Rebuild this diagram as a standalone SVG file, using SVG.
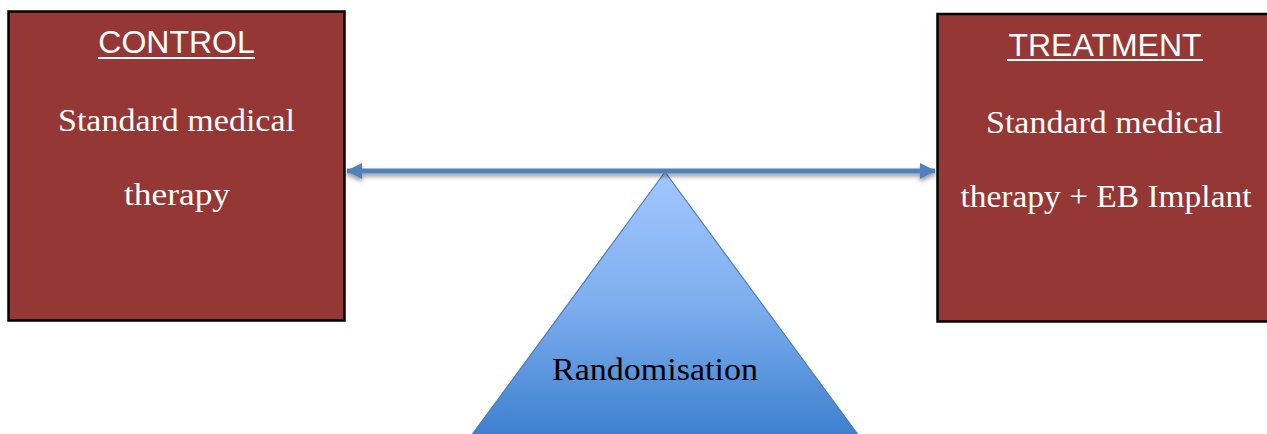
<svg xmlns="http://www.w3.org/2000/svg" width="1267" height="434" viewBox="0 0 1267 434">
  <defs>
    <linearGradient id="triFill" x1="0" y1="0" x2="0" y2="1">
      <stop offset="0" stop-color="#a3c7ff"/>
      <stop offset="0.5" stop-color="#7eaeee"/>
      <stop offset="1" stop-color="#3d80cf"/>
    </linearGradient>
    <filter id="shadow" filterUnits="userSpaceOnUse" x="320" y="140" width="640" height="70">
      <feGaussianBlur in="SourceAlpha" stdDeviation="2"/>
      <feOffset dx="0" dy="3" result="b"/>
      <feComponentTransfer><feFuncA type="linear" slope="0.4"/></feComponentTransfer>
      <feMerge><feMergeNode/><feMergeNode in="SourceGraphic"/></feMerge>
    </filter>
    <marker id="head" viewBox="0 0 16 16" refX="15" refY="8" markerWidth="16" markerHeight="16" markerUnits="userSpaceOnUse" orient="auto-start-reverse">
      <path d="M0,0 L16,8 L0,16 Z" fill="#4f81bd"/>
    </marker>
  </defs>
  <style>
    .box { fill: #953735; stroke: #000; stroke-width: 2.5; }
    .title { font-family: "Liberation Sans", Arial, sans-serif; font-size: 32px; fill: #fff; text-anchor: middle; }
    .body { font-family: "Liberation Serif", "Times New Roman", serif; font-size: 31px; fill: #fff; text-anchor: middle; }
    .ul { stroke: #fff; stroke-width: 2; }
    .label { font-family: "Liberation Serif", "Times New Roman", serif; font-size: 31px; fill: #000; text-anchor: middle; }
  </style>

  <!-- fulcrum -->
  <g id="randomisation">
    <polygon points="665,172 471,436 859,436" fill="url(#triFill)" stroke="#4a7ebb" stroke-width="1.2"/>
    <text class="label" x="655" y="380" textLength="206" lengthAdjust="spacingAndGlyphs">Randomisation</text>
  </g>

  <!-- beam between the two arms -->
  <g id="connectors" filter="url(#shadow)">
    <line x1="347" y1="171" x2="935" y2="171" stroke="#4f81bd" stroke-width="5" marker-start="url(#head)" marker-end="url(#head)"/>
  </g>

  <g id="control">
    <rect class="box" x="8.5" y="11.5" width="336" height="309"/>
    <text class="title" x="176.5" y="53">CONTROL</text>
    <line class="ul" x1="98" y1="58" x2="255" y2="58"/>
    <text class="body" x="176.5" y="131" textLength="237" lengthAdjust="spacingAndGlyphs">Standard medical</text>
    <text class="body" x="177" y="205" textLength="106" lengthAdjust="spacingAndGlyphs">therapy</text>
  </g>

  <g id="treatment">
    <rect class="box" x="937.5" y="14" width="340" height="307.5"/>
    <text class="title" x="1105" y="56">TREATMENT</text>
    <line class="ul" x1="1007" y1="60" x2="1203" y2="60"/>
    <text class="body" x="1104.5" y="133" textLength="237" lengthAdjust="spacingAndGlyphs">Standard medical</text>
    <text class="body" x="1106" y="207" textLength="291" lengthAdjust="spacingAndGlyphs">therapy + EB Implant</text>
  </g>
</svg>
